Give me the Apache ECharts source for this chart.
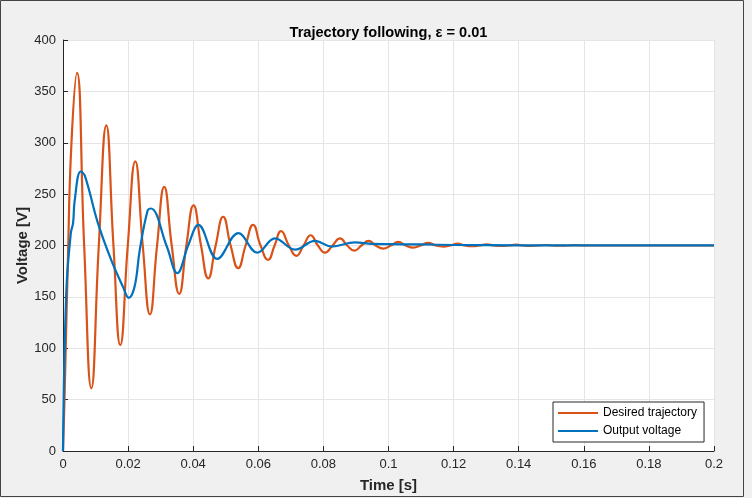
<!DOCTYPE html>
<html>
<head>
<meta charset="utf-8">
<script src="https://cdn.jsdelivr.net/npm/echarts@6/dist/echarts.min.js"></script>
<style>
html,body{margin:0;padding:0;background:#f0f0f0;}
#c{width:752px;height:498px;}
</style>
</head>
<body>
<div id="c"></div>
<script>
var titleText = 'Trajectory following, ε = 0.01';
var xName = 'Time [s]';
var yName = 'Voltage [V]';
var seriesNames = ['Desired trajectory', 'Output voltage'];

var desiredT = [0,0.0005,0.0015,0.0026,0.0043,0.0065,0.0087,0.0110,0.0133,0.0155,0.0176,0.0199,0.0222,0.0245,0.0267,0.0289,0.0311,0.0334,0.0357,0.0379,0.0401,0.0424,0.0446,0.0469,0.0492,0.0515,0.0538,0.0561,0.0584,0.0607,0.0630,0.0650,0.0670,0.0694,0.0717,0.0739,0.0761,0.0783,0.0805,0.0828,0.0851,0.0873,0.0895,0.0917,0.0939,0.0961,0.0984,0.1007,0.1030,0.1053,0.1076,0.1099,0.1122,0.1145,0.1168,0.1190,0.1212,0.1234,0.1257,0.1279,0.1302,0.1324,0.1347,0.1369,0.1392,0.1414,0.1437,0.1460,0.1482,0.1505,0.1528,0.1550,0.1573,0.1600,0.2];
var desiredV = [0,55,186,300,368,200,61,200,317,200,103,200,282,200,133,200,257,200,153,200,239,200,168,200,228,200,178,200,220,200,186,200,214,200,190,200,210,200,193,200,207,200,195,200,204.5,200,197,200,203.5,200,198,200,202.5,200,199,200,201.8,200,199.3,200,201.2,200,199.5,200,200.8,200,199.7,200,200.5,200,199.8,200,200.3,200,200];

var outputT = [0,0.001,0.0024,0.0031,0.0036,0.0054,0.0067,0.0107,0.0148,0.0184,0.0202,0.022,0.0236,0.026,0.027,0.0319,0.0351,0.0385,0.0416,0.0474,0.0539,0.0597,0.0651,0.0713,0.0774,0.0825,0.0897,0.095,0.1,0.11,0.12,0.14,0.2];
var outputV = [0,154,212,222,244,272,268,222,186,160,149,160,196,234,236,199,173,200.5,220,187,212,193,207,196,204.5,199,203,201.5,201.3,201,200.5,200.2,200.2];

var xTicks = [0,0.02,0.04,0.06,0.08,0.1,0.12,0.14,0.16,0.18,0.2];
var yTicks = [0,50,100,150,200,250,300,350,400];

function pairs(t, v){ return t.map(function(x,i){ return [x, v[i]]; }); }

var FONT = '"Liberation Sans", Arial, Helvetica, sans-serif';
var AX = '#262626';
var chart = echarts.init(document.getElementById('c'), null, {renderer:'canvas'});
chart.setOption({
  backgroundColor: '#f0f0f0',
  animation: false,
  title: {
    text: titleText,
    left: 383.5, top: 20, textAlign: 'center',
    textStyle: {fontFamily: FONT, fontSize: 14.6, fontWeight: 'bold', color: '#000'}
  },
  grid: {left: 63, right: 38, top: 40, bottom: 47, show: true, backgroundColor: '#fff', borderWidth: 0},
  legend: {
    orient: 'vertical',
    left: 553, top: 402,
    backgroundColor: '#fff',
    borderColor: '#262626', borderWidth: 1, borderRadius: 0,
    padding: [4, 7, 4, 5],
    itemGap: 4,
    itemWidth: 40, itemHeight: 2,
    icon: 'rect',
    textStyle: {fontFamily: FONT, fontSize: 12, color: '#000', lineHeight: 14, padding: [0,0,0,0]},
    data: seriesNames
  },
  xAxis: {
    type: 'value', min: 0, max: 0.2, interval: 0.02,
    name: xName, nameLocation: 'middle', nameGap: 27, nameMoveOverlap: false,
    nameTextStyle: {fontFamily: FONT, fontSize: 15, fontWeight: 'bold', color: AX},
    axisLine: {show: true, lineStyle: {color: AX, width: 1}},
    axisTick: {show: true, inside: true, length: 5, lineStyle: {color: AX}},
    axisLabel: {fontFamily: FONT, fontSize: 13, color: AX, margin: 7,
      formatter: function(v){ return String(+(+v).toFixed(2)); }},
    splitLine: {show: true, lineStyle: {color: '#e5e5e5', width: 1}}
  },
  yAxis: {
    type: 'value', min: 0, max: 400, interval: 50,
    name: yName, nameLocation: 'middle', nameGap: 33, nameRotate: 90, nameMoveOverlap: false,
    nameTextStyle: {fontFamily: FONT, fontSize: 15, fontWeight: 'bold', color: AX},
    axisLine: {show: true, lineStyle: {color: AX, width: 1}},
    axisTick: {show: true, inside: true, length: 5, lineStyle: {color: AX}},
    axisLabel: {fontFamily: FONT, fontSize: 13, color: AX, margin: 7},
    splitLine: {show: true, lineStyle: {color: '#e5e5e5', width: 1}}
  },
  series: [
    {name: seriesNames[0], type: 'line', data: pairs(desiredT, desiredV), smooth: 0.5,
     showSymbol: false, symbol: 'none', lineStyle: {color: '#D95319', width: 2.2}, itemStyle: {color: '#D95319'}, z: 2},
    {name: seriesNames[1], type: 'line', data: pairs(outputT, outputV), smooth: 0.4,
     showSymbol: false, symbol: 'none', lineStyle: {color: '#0072BD', width: 2.2}, itemStyle: {color: '#0072BD'}, z: 3}
  ],
  graphic: [
    {type: 'rect', shape: {x: 0.5, y: 0.5, width: 743, height: 496}, style: {fill: null, stroke: '#444', lineWidth: 1}, silent: true, z: 100}
  ]
});
</script>
</body>
</html>
